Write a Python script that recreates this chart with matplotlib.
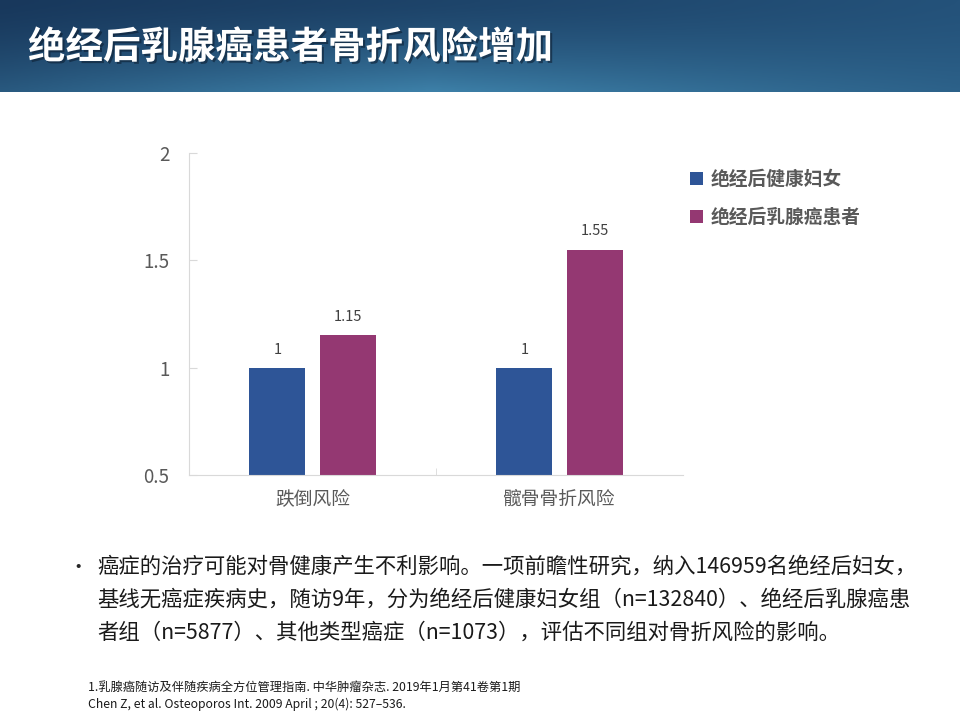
import numpy as np
import matplotlib
matplotlib.use("Agg")
import matplotlib.pyplot as plt
from matplotlib import patheffects as pe

plt.rcParams['font.family'] = ['Noto Sans CJK SC', 'DejaVu Sans']

# data
categories = ["跌倒风险", "髋骨骨折风险"]
healthy = [1, 1]
cancer = [1.15, 1.55]
series_names = ["绝经后健康妇女", "绝经后乳腺癌患者"]
yticks = [0.5, 1, 1.5, 2]

title = "绝经后乳腺癌患者骨折风险增加"
bullet_lines = [
    "癌症的治疗可能对骨健康产生不利影响。一项前瞻性研究，纳入146959名绝经后妇女，",
    "基线无癌症疾病史，随访9年，分为绝经后健康妇女组（n=132840）、绝经后乳腺癌患",
    "者组（n=5877）、其他类型癌症（n=1073），评估不同组对骨折风险的影响。",
]
refs = [
    "1.乳腺癌随访及伴随疾病全方位管理指南. 中华肿瘤杂志. 2019年1月第41卷第1期",
    "Chen Z, et al. Osteoporos Int. 2009 April ; 20(4): 527–536.",
]

blue = "#2E5597"
purple = "#943872"
gray = "#595959"

fig = plt.figure(figsize=(9.6, 7.2), dpi=100)

# header band
hax = fig.add_axes([0, 1 - 92 / 720, 1, 92 / 720])
xx = np.linspace(0, 1, 200)
yy = np.linspace(0, 1, 40)
X, Y = np.meshgrid(xx, yy)
c_top_left = np.array([0x18, 0x38, 0x5c]) / 255
c_top_right = np.array([0x24, 0x52, 0x7a]) / 255
c_bot = np.array([0x3d, 0x80, 0xa8]) / 255
mid = 1 - np.abs(X - 0.45) * 1.2
t = (Y ** 1.5 * np.clip(mid, 0.3, 1))[..., None]
base = c_top_left * (1 - X[..., None]) + c_top_right * X[..., None]
img = base * (1 - t) + c_bot * t
hax.imshow(img, aspect="auto", extent=[0, 1, 0, 1], origin="upper")
hax.axis("off")
fig.text(28 / 960, 1 - 47 / 720, title, color="white", fontsize=27,
         fontweight="bold", va="center", ha="left",
         path_effects=[pe.withSimplePatchShadow(offset=(1.5, -1.5),
                                                shadow_rgbFace="#0d1f33", alpha=0.6)])

# chart
ax = fig.add_axes([189 / 960, 245 / 720, 494 / 960, 322 / 720])
x = np.arange(len(categories))
w = 0.227
off = 0.142
b1 = ax.bar(x - off, np.array(healthy) - 0.5, w, bottom=0.5, color=blue,
            label=series_names[0])
b2 = ax.bar(x + off, np.array(cancer) - 0.5, w, bottom=0.5, color=purple,
            label=series_names[1])
for bars, vals in ((b1, healthy), (b2, cancer)):
    ax.bar_label(bars, labels=[f"{v:g}" for v in vals], padding=8,
                 fontsize=10.5, color="#404040")

ax.set_xlim(-0.5, 1.5)
ax.set_ylim(0.5, 2)
ax.set_yticks(yticks)
ax.set_yticklabels([f"{v:g}" for v in yticks], fontsize=13.5, color=gray)
ax.set_xticks(x)
ax.set_xticklabels(categories, fontsize=13.5, color=gray)
ax.set_xticks([0.5], minor=True)
ax.tick_params(axis="x", which="major", length=0, pad=10)
ax.tick_params(axis="x", which="minor", direction="in", length=5, color="#d9d9d9")
ax.tick_params(axis="y", direction="in", length=6, color="#d9d9d9", pad=14)
for s in ("top", "right"):
    ax.spines[s].set_visible(False)
for s in ("left", "bottom"):
    ax.spines[s].set_color("#d9d9d9")

leg = fig.legend(handles=[b1, b2], loc="upper left",
                 bbox_to_anchor=(673 / 960, 1 - 153 / 720), frameon=False,
                 handlelength=0.7, handleheight=0.7, handletextpad=0.4,
                 labelspacing=1.0, prop={"size": 13.5, "weight": "bold"})
for txt in leg.get_texts():
    txt.set_color(gray)

# bullet text
fig.text(68 / 960, 1 - 568 / 720, "•", fontsize=14, color="#262626",
         va="center", ha="left")
for i, line in enumerate(bullet_lines):
    fig.text(97 / 960, 1 - (567 + 33 * i) / 720, line, fontsize=15.4,
             color="#1a1a1a", va="center", ha="left")

for i, line in enumerate(refs):
    fig.text(88 / 960, 1 - (687 + 17 * i) / 720, line, fontsize=8.8,
             color="#1a1a1a", va="center", ha="left")

fig.savefig("out.png", dpi=100)
